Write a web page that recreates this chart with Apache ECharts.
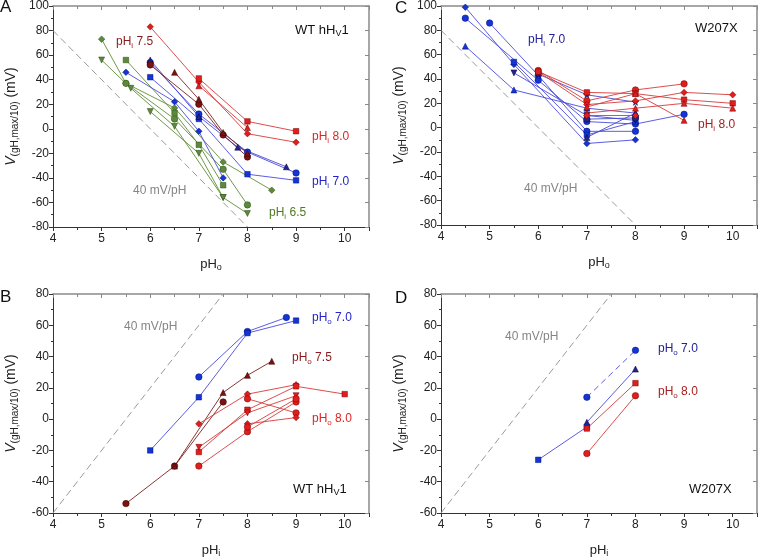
<!DOCTYPE html>
<html>
<head>
<meta charset="utf-8">
<script src="https://cdn.jsdelivr.net/npm/echarts@6/dist/echarts.min.js"></script>
<style>
  html, body { margin: 0; padding: 0; background: #fff; }
  #chart { width: 759px; height: 559px; }
</style>
</head>
<body>
<div id="chart"></div>
<script>
// ---- data (pH, mV) ----
// panel A: WT hHv1, x = pHo
var aRedDiamond = [[6, 83], [7, 38], [8, -4], [9, -11]];
var aRedSquare = [[7, 41], [8, 6], [9, -2]];
var aRedTriangle = [[7, 35], [8, 1]];
var aDarkCircle = [[6, 52], [7, 20], [7.5, -5], [8, -23]];
var aDarkTriangle = [[6.5, 46], [7, 24], [7.5, -3], [8, -20]];
var aBlueSquare = [[6, 42], [7, 8], [8, -37], [9, -42]];
var aBlueCircle = [[6, 54], [7, 12], [8, -19], [9, -36]];
var aBlueDiamond = [[5.5, 46], [6.5, 22], [7, -2], [7.5, -40]];
var aNavyTriangle = [[6, 56], [7, 10], [7.8, -15], [8.8, -31]];
var aGreenDiamond = [[5, 73], [5.5, 37], [6.5, 17], [7.5, -27], [8.5, -50]];
var aGreenDown = [[5, 56], [5.6, 33], [6.5, 2], [7.5, -56], [8, -69]];
var aGreenSquare = [[5.5, 56], [6.5, 13], [7, -13], [7.5, -46]];
var aGreenCircle = [[5.5, 37], [6.5, 8], [7.5, -33], [8, -62]];
var aGreenDown2 = [[6, 14], [7, -20], [7.5, -56]];

// panel C: W207X, x = pHo
var cBlueDiamond = [[4.5, 99], [5.5, 52], [7, -13], [8, -10]];
var cBlueCircle = [[4.5, 90], [6, 39], [7, 5], [8, 3], [9, 11]];
var cBlueTriangle = [[4.5, 67], [5.5, 31], [7, 16], [8, 12]];
var cBlueCircle2 = [[5, 86], [6, 43], [7, -3], [8, -3]];
var cBlueSquare = [[5.5, 54], [7, -6], [8, 5]];
var cBlueDown = [[5.5, 45], [7, 10], [8, 6]];
var cNavyStar = [[6, 44], [7, 27], [8, 21]];
var cNavyCircle = [[7, 7], [8, 8]];
var cNavyTriangle = [[7, -8], [8, 12]];
var cRedCircle = [[6, 47], [7, 22], [8, 31], [9, 36]];
var cRedDiamond = [[6, 46], [7, 19], [8, 22], [9, 29], [10, 27]];
var cRedSquare = [[6, 46], [7, 29], [8, 28], [9, 23], [10, 20]];
var cRedTriangle = [[7, 17], [8, 28], [9, 6]];
var cRedTriangle2 = [[7, 12], [8, 16], [9, 20], [10, 16]];
var cRedDiamond2 = [[7, 10], [8, 10]];

// panel B: WT hHv1, x = pHi
var bBlueCircle = [[7, 27], [8, 56], [8.8, 65]];
var bBlueSquare = [[6, -20], [7, 14], [8, 55], [9, 63]];
var bDarkCircle = [[5.5, -54], [6.5, -30], [7.5, 11]];
var bDarkTriangle = [[6.5, -30], [7.5, 17], [8, 28], [8.5, 37]];
var bRedDiamond = [[7, -3], [8, 16], [9, 22]];
var bRedSquare = [[7, -21], [8, 6], [9, 21], [10, 16]];
var bRedDown = [[7, -18], [8, 4], [9, 15]];
var bRedCircle = [[7, -30], [8, -8], [9, 11]];
var bRedCircle2 = [[8, 13], [9, 4]];
var bRedDiamond2 = [[8, -3], [9, 1]];
var bRedCircle3 = [[8, -5], [9, 13]];

// panel D: W207X, x = pHi
var dBlueCircle = [[7, 14], [8, 44]];
var dBlueTriangle = [[7, -2], [8, 32]];
var dBlueSquare = [[6, -26], [7, -5]];
var dRedSquare = [[7, -6], [8, 23]];
var dRedCircle = [[7, -22], [8, 15]];

// 40 mV/pH guide lines
var refDown = [[4, 80], [8, -80]];
var refUp = [[4, -60], [7.5, 80]];

var xTicks = [4, 5, 6, 7, 8, 9, 10];

// ---- styling ----
var FONT = 'Liberation Sans, Arial, sans-serif';
var C = {
  red: { line: '#d83a3a', fill: '#e01e1e', edge: '#7a0000' },
  dark: { line: '#7a2020', fill: '#7a1212', edge: '#3a0000' },
  blue: { line: '#4a4ae0', fill: '#1434d4', edge: '#001080' },
  navy: { line: '#4a4ad0', fill: '#24248a', edge: '#000040' },
  green: { line: '#5e8e34', fill: '#5a8a3a', edge: '#2a4a12' }
};
var SYM = {
  circle: 'circle',
  square: 'rect',
  triangle: 'triangle',
  diamond: 'diamond',
  down: 'path://M0,0L10,0L5,9Z',
  star: 'path://M5,0L6.2,3.6L10,3.6L7,5.9L8.1,9.5L5,7.3L1.9,9.5L3,5.9L0,3.6L3.8,3.6Z'
};
var SIZE = { circle: 6.5, square: 5.5, triangle: 6, diamond: 6.5, down: 6, star: 6.5 };

var grids = [
  { left: 53, top: 5, width: 316, height: 222 },   // A
  { left: 441, top: 4, width: 316, height: 221 },  // C
  { left: 53, top: 294, width: 316, height: 221 }, // B
  { left: 441, top: 294, width: 316, height: 221 } // D
];
var yRanges = [[-80, 100], [-80, 100], [-60, 80], [-60, 80]];
var xNames = ['o', 'o', 'i', 'i'];

var series = [];
function add(panel, data, col, sym, dashed) {
  var c = C[col];
  series.push({
    type: 'line',
    xAxisIndex: panel,
    yAxisIndex: panel,
    data: data,
    symbol: SYM[sym],
    symbolSize: SIZE[sym],
    lineStyle: { color: c.line, width: 0.9, type: dashed ? [6, 4] : 'solid' },
    itemStyle: { color: c.fill, borderColor: c.edge, borderWidth: 0.5 },
    z: 3,
    silent: true,
    animation: false
  });
}
function ref(panel, data) {
  series.push({
    type: 'line', xAxisIndex: panel, yAxisIndex: panel, data: data,
    symbol: 'none', silent: true, animation: false, z: 1,
    lineStyle: { color: '#9a9a9a', width: 1, type: [7, 4] }
  });
}

// A
ref(0, refDown);
add(0, aGreenDiamond, 'green', 'diamond');
add(0, aGreenDown, 'green', 'down');
add(0, aGreenSquare, 'green', 'square');
add(0, aGreenCircle, 'green', 'circle');
add(0, aGreenDown2, 'green', 'down');
add(0, aBlueSquare, 'blue', 'square');
add(0, aBlueCircle, 'blue', 'circle');
add(0, aBlueDiamond, 'blue', 'diamond');
add(0, aNavyTriangle, 'navy', 'triangle');
add(0, aDarkCircle, 'dark', 'circle');
add(0, aDarkTriangle, 'dark', 'triangle');
add(0, aRedDiamond, 'red', 'diamond');
add(0, aRedSquare, 'red', 'square');
add(0, aRedTriangle, 'red', 'triangle');
// C
ref(1, refDown);
add(1, cBlueDiamond, 'blue', 'diamond');
add(1, cBlueCircle, 'blue', 'circle');
add(1, cBlueTriangle, 'blue', 'triangle');
add(1, cBlueCircle2, 'blue', 'circle');
add(1, cBlueSquare, 'blue', 'square');
add(1, cBlueDown, 'navy', 'down');
add(1, cNavyStar, 'navy', 'star');
add(1, cNavyCircle, 'navy', 'circle');
add(1, cNavyTriangle, 'navy', 'triangle');
add(1, cRedCircle, 'red', 'circle');
add(1, cRedDiamond, 'red', 'diamond');
add(1, cRedSquare, 'red', 'square');
add(1, cRedTriangle, 'red', 'triangle');
add(1, cRedTriangle2, 'red', 'triangle');
add(1, cRedDiamond2, 'red', 'diamond');
// B
ref(2, refUp);
add(2, bBlueCircle, 'blue', 'circle');
add(2, bBlueSquare, 'blue', 'square');
add(2, bDarkCircle, 'dark', 'circle');
add(2, bDarkTriangle, 'dark', 'triangle');
add(2, bRedDiamond, 'red', 'diamond');
add(2, bRedSquare, 'red', 'square');
add(2, bRedDown, 'red', 'down');
add(2, bRedCircle, 'red', 'circle');
add(2, bRedCircle2, 'red', 'circle');
add(2, bRedDiamond2, 'red', 'diamond');
add(2, bRedCircle3, 'red', 'circle');
// D
ref(3, refUp);
add(3, dBlueCircle, 'blue', 'circle', true);
add(3, dBlueTriangle, 'navy', 'triangle');
add(3, dBlueSquare, 'blue', 'square');
add(3, dRedSquare, 'red', 'square');
add(3, dRedCircle, 'red', 'circle');

var subRich = {
  t: { fontSize: 13, fontFamily: FONT, color: '#222' },
  s: { fontSize: 9, fontFamily: FONT, color: '#222', padding: [7, 0, 0, 0] },
  yt: { fontSize: 14, fontFamily: FONT, color: '#222' },
  v: { fontSize: 14, fontFamily: FONT, color: '#222', fontStyle: 'italic' },
  vs: { fontSize: 10, fontFamily: FONT, color: '#222', padding: [7, 0, 0, 0] }
};

var xAxes = [], yAxes = [];
grids.forEach(function (g, i) {
  xAxes.push({
    gridIndex: i, type: 'value', min: 4, max: 10.5, interval: 1,
    name: '{t|pH}{s|' + xNames[i] + '}', nameLocation: 'middle', nameGap: 29,
    nameTextStyle: { rich: subRich },
    axisLine: { onZero: false, lineStyle: { color: '#333', width: 1 } },
    axisTick: { show: true, length: 4, lineStyle: { color: '#333' } },
    minorTick: { show: true, splitNumber: 2, length: 3, lineStyle: { color: '#333' } },
    axisLabel: { color: '#222', fontSize: 12, fontFamily: FONT, margin: 6, showMaxLabel: false,
      formatter: function (v) { return xTicks.indexOf(v) >= 0 ? String(v) : ''; } },
    splitLine: { show: false }
  });
  yAxes.push({
    gridIndex: i, type: 'value', min: yRanges[i][0], max: yRanges[i][1], interval: 20,
    name: '{v|V}{vs|(gH,max/10)}{yt| (mV)}', nameLocation: 'middle', nameGap: 33, nameRotate: 90,
    nameTextStyle: { rich: subRich },
    axisLine: { show: true, onZero: false, lineStyle: { color: '#333', width: 1 } },
    axisTick: { show: true, length: 4, lineStyle: { color: '#333' } },
    minorTick: { show: true, splitNumber: 2, length: 2, lineStyle: { color: '#333' } },
    axisLabel: { color: '#222', fontSize: 12, fontFamily: FONT, margin: 4 },
    splitLine: { show: false }
  });
});
// top / right frame axes with inward ticks
grids.forEach(function (g, i) {
  xAxes.push({
    gridIndex: i, type: 'value', position: 'top', min: 4, max: 10.5, interval: 1,
    axisLine: { onZero: false, lineStyle: { color: '#8a8a8a', width: 1.5 } },
    axisTick: { show: true, inside: true, length: 4, lineStyle: { color: '#8a8a8a' } },
    minorTick: { show: true, splitNumber: 2, length: 3, lineStyle: { color: '#8a8a8a' } },
    axisLabel: { show: false }, splitLine: { show: false }
  });
  yAxes.push({
    gridIndex: i, type: 'value', position: 'right', min: yRanges[i][0], max: yRanges[i][1], interval: 20,
    axisLine: { show: true, onZero: false, lineStyle: { color: '#8a8a8a', width: 1.5 } },
    axisTick: { show: true, inside: true, length: 4, lineStyle: { color: '#8a8a8a' } },
    minorTick: { show: false },
    axisLabel: { show: false }, splitLine: { show: false }
  });
});

function label(x, y, text, color, size) {
  var r = {
    t: { fontSize: size, fontFamily: FONT, fill: color },
    s: { fontSize: size - 4, fontFamily: FONT, fill: color, padding: [7, 0, 0, 0] }
  };
  return { type: 'text', left: x, top: y, z: 10, silent: true,
    style: { text: text, rich: r, fill: color, fontSize: size, fontFamily: FONT } };
}
var RED = '#e02424', DARK = '#8b1a1a', BLUE = '#2424c4', NAVY = '#22229a', GREEN = '#4e7a22', GREY = '#858585', DRED = '#a82020';

var graphics = [
  label(0, -1, 'A', '#111', 17),
  label(395, 0, 'C', '#111', 17),
  label(0, 289, 'B', '#111', 17),
  label(395, 290, 'D', '#111', 17),
  // A
  label(295, 24, '{t|WT hH}{s|V}{t|1}', '#111', 13),
  label(116, 36, '{t|pH}{s|i}{t| 7.5}', DARK, 12),
  label(312, 131, '{t|pH}{s|i}{t| 8.0}', RED, 12),
  label(312, 176, '{t|pH}{s|i}{t| 7.0}', BLUE, 12),
  label(269, 207, '{t|pH}{s|i}{t| 6.5}', GREEN, 12),
  label(133, 185, '40 mV/pH', GREY, 12),
  // C
  label(695, 22, 'W207X', '#111', 13),
  label(528, 34, '{t|pH}{s|i}{t| 7.0}', NAVY, 12),
  label(698, 119, '{t|pH}{s|i}{t| 8.0}', DRED, 12),
  label(524, 183, '40 mV/pH', GREY, 12),
  // B
  label(124, 321, '40 mV/pH', GREY, 12),
  label(312, 312, '{t|pH}{s|o}{t| 7.0}', BLUE, 12),
  label(292, 352, '{t|pH}{s|o}{t| 7.5}', DARK, 12),
  label(312, 413, '{t|pH}{s|o}{t| 8.0}', RED, 12),
  label(293, 483, '{t|WT hH}{s|V}{t|1}', '#111', 13),
  // D
  label(505, 331, '40 mV/pH', GREY, 12),
  label(658, 343, '{t|pH}{s|o}{t| 7.0}', NAVY, 12),
  label(658, 386, '{t|pH}{s|o}{t| 8.0}', DRED, 12),
  label(689, 483, 'W207X', '#111', 13)
];

var chart = echarts.init(document.getElementById('chart'));
chart.setOption({
  backgroundColor: '#fff',
  animation: false,
  grid: grids,
  xAxis: xAxes,
  yAxis: yAxes,
  series: series,
  graphic: graphics
});
</script>
</body>
</html>
